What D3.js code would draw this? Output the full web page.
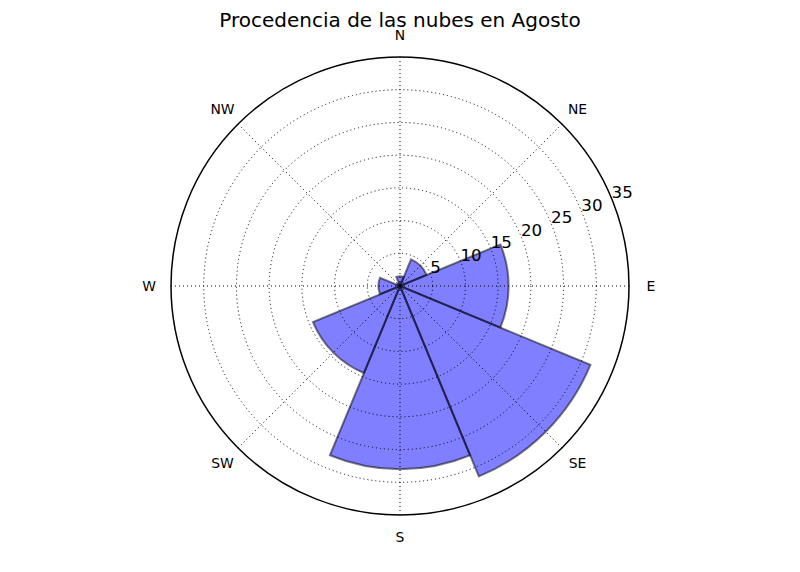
<!DOCTYPE html>
<html>
<head>
<meta charset="utf-8">
<script src="https://cdn.jsdelivr.net/npm/d3@7"></script>
<style>
  body { margin: 0; background: #fff; }
  svg { display: block; font-family: "DejaVu Sans", sans-serif; }
</style>
</head>
<body>
<div id="chart"></div>
<script>
var directions = ["N", "NE", "E", "SE", "S", "SW", "W", "NW"];
var frequencies = [1.5, 4.4, 16.6, 31.5, 28.0, 14.4, 3.3, 0.5];
var radialTicks = [5, 10, 15, 20, 25, 30, 35];
var chartTitle = "Procedencia de las nubes en Agosto";

var width = 800,
    height = 572,
    cx = 400,
    cy = 286,
    outerRadius = 229;

var svg = d3.select("#chart")
    .append("svg")
    .attr("width", width)
    .attr("height", height);

var g = svg.append("g")
    .attr("transform", "translate(" + cx + "," + cy + ")");

var r = d3.scaleLinear()
    .domain([0, 35])
    .range([0, outerRadius]);

// compass angle of each direction, in degrees
var angle = d3.scaleLinear()
    .domain([0, directions.length])
    .range([0, 360]);

var toRad = Math.PI / 180;
var halfWidth = 22.5;

// bars
var arc = d3.arc()
    .innerRadius(0)
    .outerRadius(d => r(d.value))
    .startAngle(d => (d.angle - halfWidth) * toRad)
    .endAngle(d => (d.angle + halfWidth) * toRad);

var bars = directions.map((name, i) => ({ name: name, angle: angle(i), value: frequencies[i] }));

g.selectAll("path.bar")
    .data(bars)
    .enter()
    .append("path")
    .attr("class", "bar")
    .attr("d", arc)
    .attr("fill", "#0000ff")
    .attr("fill-opacity", 0.5)
    .attr("stroke", "#000")
    .attr("stroke-opacity", 0.5)
    .attr("stroke-width", 2)
    .attr("stroke-linejoin", "miter");

// grid circles
g.selectAll("circle.grid")
    .data(radialTicks.slice(0, -1))
    .enter()
    .append("circle")
    .attr("r", d => r(d))
    .attr("fill", "none")
    .attr("stroke", "#000")
    .attr("stroke-width", 1)
    .attr("stroke-dasharray", "1,3");

// spokes
g.selectAll("line.spoke")
    .data(bars)
    .enter()
    .append("line")
    .attr("x1", 0)
    .attr("y1", 0)
    .attr("x2", d => r(35) * Math.sin(d.angle * toRad))
    .attr("y2", d => -r(35) * Math.cos(d.angle * toRad))
    .attr("stroke", "#000")
    .attr("stroke-width", 1)
    .attr("stroke-dasharray", "1,3");

// outer frame
g.append("circle")
    .attr("r", r(35))
    .attr("fill", "none")
    .attr("stroke", "#000")
    .attr("stroke-width", 1.5);

// radial labels along 22.5 deg above east
var labelAngle = 67.5 * toRad;
g.selectAll("text.rlabel")
    .data(radialTicks)
    .enter()
    .append("text")
    .attr("x", d => r(d) * Math.sin(labelAngle))
    .attr("y", d => -r(d) * Math.cos(labelAngle))
    .attr("text-anchor", "start")
    .attr("font-size", "16.7px")
    .attr("fill", "#000")
    .text(d => d);

// direction labels
g.selectAll("text.dir")
    .data(bars)
    .enter()
    .append("text")
    .attr("x", d => (outerRadius + 22) * Math.sin(d.angle * toRad))
    .attr("y", d => -(outerRadius + 22) * Math.cos(d.angle * toRad))
    .attr("text-anchor", "middle")
    .attr("dominant-baseline", "central")
    .attr("font-size", "13.9px")
    .attr("fill", "#000")
    .text(d => d.name);

// title
svg.append("text")
    .attr("x", cx)
    .attr("y", 27)
    .attr("text-anchor", "middle")
    .attr("font-size", "20px")
    .attr("fill", "#000")
    .text(chartTitle);
</script>
</body>
</html>
